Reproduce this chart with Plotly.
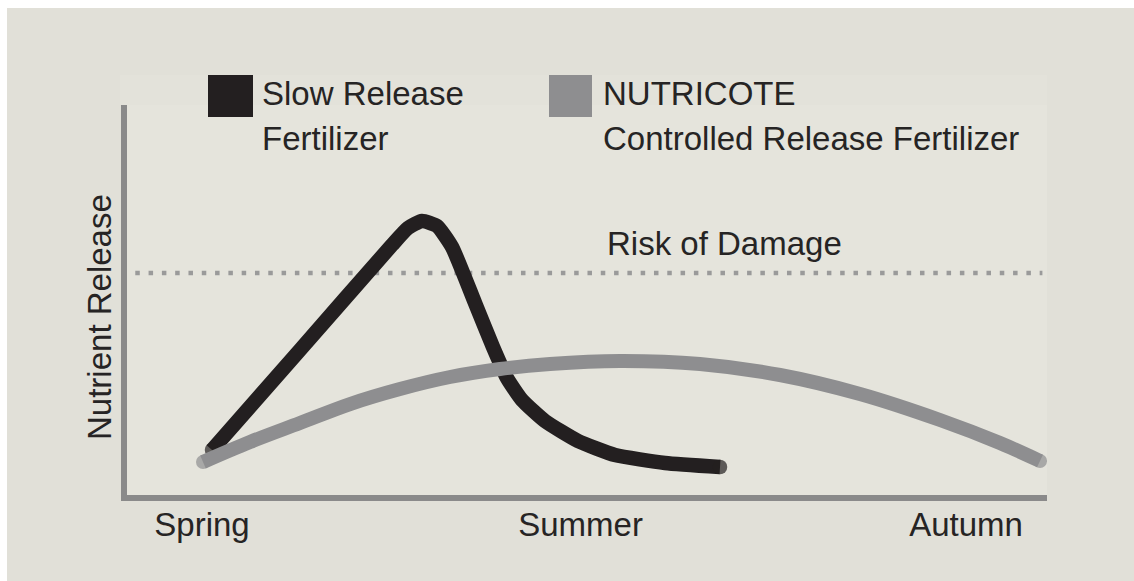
import plotly.graph_objects as go

# ---- data (arbitrary 0-100 scales) ----
slow_x = [9.24, 18.80, 28.80, 30.54, 32.07, 33.70, 35.33, 37.83, 39.78, 41.30, 42.93, 45.43, 49.02, 53.04, 58.48, 64.46]
slow_y = [11.54, 37.18, 64.10, 68.46, 70.26, 68.97, 63.59, 49.23, 37.95, 30.00, 24.36, 18.97, 13.85, 10.26, 8.21, 7.18]

nutri_x = [8.26, 13.37, 18.80, 24.24, 29.67, 35.11, 40.54, 45.98, 53.59, 62.28, 70.98, 79.67, 88.37, 94.89, 99.24]
nutri_y = [8.46, 13.59, 18.46, 23.33, 27.18, 30.26, 32.31, 33.59, 34.36, 33.59, 30.77, 25.90, 19.23, 13.33, 8.72]

risk_x = [0.9, 99.5]
risk_y = [56.9, 56.9]

season_pos = [8.15, 49.3, 91.2]
season_labels = ["Spring", "Summer", "Autumn"]

# ---- layout geometry ----
W, H = 1134, 581
L, R, T, B = 127, 87, 105, 86
PW, PH = W - L - R, H - T - B


def px(x):  # x in screenshot pixels -> paper
    return (x - L) / PW


def py(y):  # y in screenshot pixels -> paper
    return (H - B - y) / PH


FONT = "Liberation Sans, Arial, sans-serif"
TXT = "#262424"
BLACK = "#231f20"
GRAY = "#8e8e90"
FS = 33

fig = go.Figure()

fig.add_trace(go.Scatter(
    x=risk_x, y=risk_y, mode="lines",
    line=dict(color="#9a9a9a", width=4.5, dash="4.5px,8.8px"),
    hoverinfo="skip", showlegend=False))

fig.add_trace(go.Scatter(
    x=slow_x, y=slow_y, mode="lines+markers",
    line=dict(color=BLACK, width=14.5, shape="spline", smoothing=0.5),
    marker=dict(size=[14.5] + [0] * (len(slow_x) - 2) + [14.5], color=BLACK, line=dict(width=0)),
    name="Slow Release Fertilizer", showlegend=False))

fig.add_trace(go.Scatter(
    x=nutri_x, y=nutri_y, mode="lines+markers",
    line=dict(color=GRAY, width=14, shape="spline", smoothing=1.0),
    marker=dict(size=[14] + [0] * (len(nutri_x) - 2) + [14], color=GRAY, line=dict(width=0)),
    name="NUTRICOTE Controlled Release Fertilizer", showlegend=False))

shapes = [
    # slightly lighter panel band above plot
    dict(type="rect", xref="paper", yref="paper", x0=px(120), x1=px(1047), y0=py(105), y1=py(75),
         fillcolor="#e3e2da", line=dict(width=0), layer="below"),
    # white border of the cropped picture (top and left)
    dict(type="rect", xref="paper", yref="paper", x0=px(0), x1=px(W), y0=py(8), y1=py(0),
         fillcolor="white", line=dict(width=0), layer="above"),
    dict(type="rect", xref="paper", yref="paper", x0=px(0), x1=px(7), y0=py(H), y1=py(0),
         fillcolor="white", line=dict(width=0), layer="above"),
    # legend swatches
    dict(type="rect", xref="paper", yref="paper", x0=px(208), x1=px(253), y0=py(117), y1=py(75),
         fillcolor=BLACK, line=dict(width=0)),
    dict(type="rect", xref="paper", yref="paper", x0=px(549), x1=px(592), y0=py(117), y1=py(75),
         fillcolor=GRAY, line=dict(width=0)),
]


def ann(text, x, y, **kw):
    d = dict(text=text, x=x, y=y, xref="paper", yref="paper", showarrow=False,
             xanchor="left", yanchor="middle", font=dict(family=FONT, size=FS, color=TXT))
    d.update(kw)
    return d


annotations = [
    ann("Slow Release", px(260), py(93)),
    ann("Fertilizer", px(260), py(138)),
    ann("NUTRICOTE", px(601), py(93)),
    ann("Controlled Release Fertilizer", px(601), py(138)),
    dict(text="Risk of Damage", x=52.0, y=64.6, xref="x", yref="y", showarrow=False,
         xanchor="left", yanchor="middle", font=dict(family=FONT, size=FS, color=TXT)),
    ann("Nutrient Release", px(99), py(317), xanchor="center", textangle=-90),
]

fig.update_layout(
    width=W, height=H,
    margin=dict(l=L, r=R, t=T, b=B, pad=0),
    paper_bgcolor="#e1e0d8",
    plot_bgcolor="#e5e4dc",
    showlegend=False,
    shapes=shapes,
    annotations=annotations,
    xaxis=dict(range=[0, 100], showgrid=False, zeroline=False, showline=True,
               linecolor="#8a8a8a", linewidth=6, ticks="",
               tickmode="array", tickvals=season_pos, ticktext=season_labels,
               tickfont=dict(family=FONT, size=FS, color=TXT), ticklabelstandoff=-5,
               fixedrange=True),
    yaxis=dict(range=[0, 100], showgrid=False, zeroline=False, showline=True,
               linecolor="#8a8a8a", linewidth=6, showticklabels=False, ticks="",
               fixedrange=True),
)

fig.write_html(
    "out.html",
    config={"displayModeBar": False},
    post_script="document.body.style.margin='0';"
                "document.documentElement.style.overflow='hidden';",
)
